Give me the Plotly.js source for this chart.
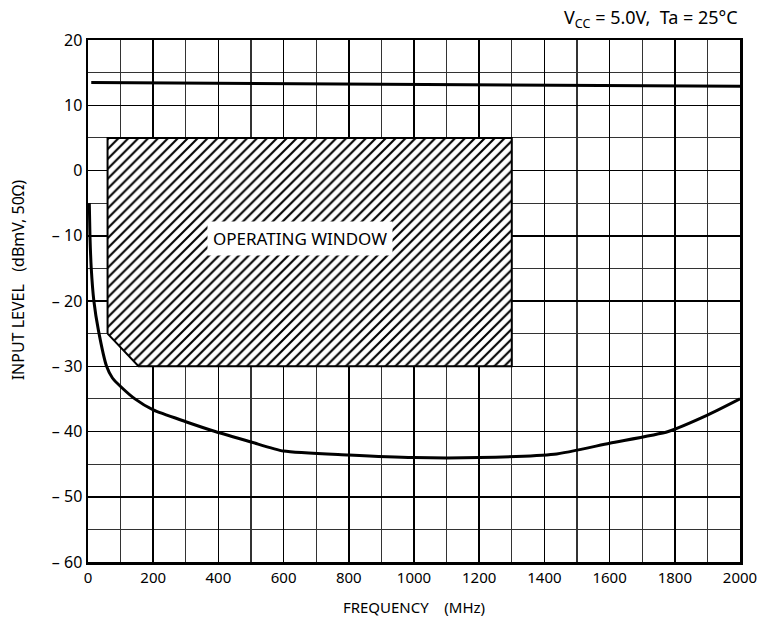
<!DOCTYPE html>
<html>
<head>
<meta charset="utf-8">
<script src="https://cdn.plot.ly/plotly-3.0.1.min.js"></script>
<style>html,body{margin:0;padding:0;background:#fff}#chart{width:757px;height:627px}</style>
</head>
<body>
<div id="chart"></div>
<script>
// Upper limit (overload) line
var upperFreq = [10, 400, 800, 1200, 1600, 2000];
var upperLevel = [13.5, 13.4, 13.2, 13.1, 13.0, 12.9];

// Sensitivity curve (minimum input level)
var sensFreq = [4, 6, 10, 18, 32, 57, 75, 100, 144, 200, 300, 390, 500, 600, 800, 1000, 1200, 1430, 1600, 1780, 1900, 2000];
var sensLevel = [-5, -10, -15, -20, -24.5, -30, -31.8, -33.1, -35.0, -36.7, -38.5, -40.0, -41.6, -43.0, -43.6, -44.0, -44.0, -43.5, -41.8, -40.0, -37.5, -35.0];

// Operating window polygon
var winFreq = [60, 60, 1300, 1300, 155, 60];
var winLevel = [-25, 5, 5, -30, -30, -25];

var xTicks = [0, 200, 400, 600, 800, 1000, 1200, 1400, 1600, 1800, 2000];
var yTicks = [20, 10, 0, -10, -20, -30, -40, -50, -60];
var yTickText = ["20", "10", "0", "\u2013 10", "\u2013 20", "\u2013 30", "\u2013 40", "\u2013 50", "\u2013 60"];

var font = "Noto Sans, Open Sans, sans-serif";

var traces = [
  {
    x: winFreq, y: winLevel, mode: "lines", fill: "toself",
    fillcolor: "#fff",
    fillpattern: {shape: "/", size: 7, solidity: 0.3, fgcolor: "#000", bgcolor: "#fff"},
    line: {color: "#000", width: 2}, hoverinfo: "skip", showlegend: false
  },
  {
    x: upperFreq, y: upperLevel, mode: "lines",
    line: {color: "#000", width: 3}, showlegend: false
  },
  {
    x: sensFreq, y: sensLevel, mode: "lines",
    line: {color: "#000", width: 3, shape: "spline", smoothing: 0.6}, showlegend: false
  }
];

var layout = {
  width: 757, height: 627,
  margin: {l: 88, r: 17, t: 40, b: 65},
  paper_bgcolor: "#fff", plot_bgcolor: "#fff",
  font: {family: font, color: "#000", size: 15},
  showlegend: false,
  xaxis: {
    range: [0, 2000], tickvals: xTicks, ticktext: xTicks.map(String),
    showgrid: true, gridcolor: "#000", gridwidth: 1.5,
    minor: {dtick: 100, showgrid: true, gridcolor: "#333", gridwidth: 1.2, ticks: ""},
    showline: true, mirror: true, linecolor: "#000", linewidth: 2.5,
    zeroline: false, ticks: "", ticklen: 0, ticklabeloverflow: "allow",
    tickfont: {family: font, size: 15, color: "#000"},
    title: {text: "FREQUENCY &nbsp;&nbsp; (MHz)", font: {family: font, size: 15, color: "#000"}, standoff: 17}
  },
  yaxis: {
    range: [-60, 20], tickvals: yTicks, ticktext: yTickText,
    showgrid: true, gridcolor: "#000", gridwidth: 1.5,
    minor: {dtick: 5, showgrid: true, gridcolor: "#333", gridwidth: 1.2, ticks: ""},
    showline: true, mirror: true, linecolor: "#000", linewidth: 2.5,
    zeroline: false, ticks: "", ticklen: 0,
    tickfont: {family: font, size: 16, color: "#000"}
  },
  annotations: [
    {
      xref: "paper", yref: "paper", x: 1, y: 1.042, xanchor: "right", yanchor: "middle",
      text: "V<sub>CC</sub> = 5.0V,  Ta = 25\u00B0C", showarrow: false,
      font: {family: font, size: 18, color: "#000"}
    },
    {
      xref: "paper", yref: "paper", x: -0.107, y: 0.54, xanchor: "center", yanchor: "middle",
      textangle: -90, text: "INPUT LEVEL &nbsp; (dBmV, 50\u03A9)", showarrow: false,
      font: {family: font, size: 16, color: "#000"}
    },
    {
      x: 650, y: -10.4, xref: "x", yref: "y", text: "OPERATING WINDOW", showarrow: false,
      bgcolor: "#fff", borderpad: 5, font: {family: font, size: 17, color: "#000"}
    }
  ]
};

Plotly.newPlot("chart", traces, layout, {displayModeBar: false, staticPlot: true});
</script>
</body>
</html>
